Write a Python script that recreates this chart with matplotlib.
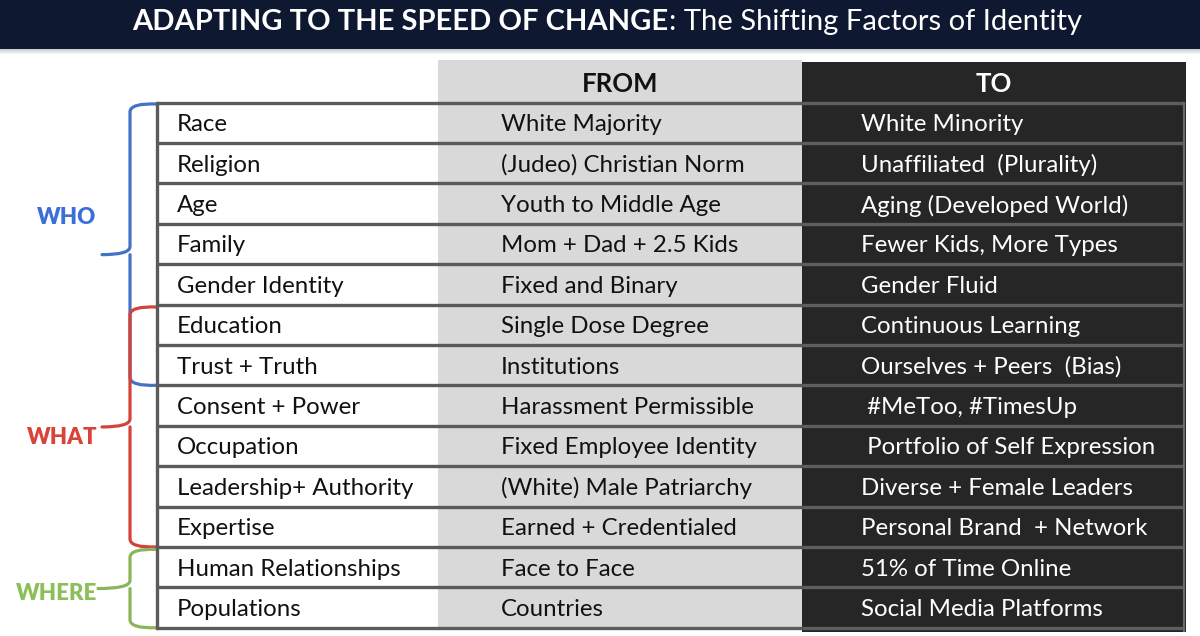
import matplotlib
matplotlib.use("Agg")
import matplotlib.pyplot as plt
from matplotlib.path import Path
from matplotlib.patches import PathPatch, Rectangle

# ---------------- data ----------------
title_bold = "ADAPTING TO THE SPEED OF CHANGE"
title_rest = ": The Shifting Factors of Identity"
col_headers = ["FROM", "TO"]
factors = ["Race", "Religion", "Age", "Family", "Gender Identity", "Education",
           "Trust + Truth", "Consent + Power", "Occupation", "Leadership+ Authority",
           "Expertise", "Human Relationships", "Populations"]
from_vals = ["White Majority", "(Judeo) Christian Norm", "Youth to Middle Age",
             "Mom + Dad + 2.5 Kids", "Fixed and Binary", "Single Dose Degree",
             "Institutions", "Harassment Permissible", "Fixed Employee Identity",
             "(White) Male Patriarchy", "Earned + Credentialed", "Face to Face",
             "Countries"]
to_vals = ["White Minority", "Unaffiliated  (Plurality)", "Aging (Developed World)",
           "Fewer Kids, More Types", "Gender Fluid", "Continuous Learning",
           "Ourselves + Peers  (Bias)", " #MeToo, #TimesUp", " Portfolio of Self Expression",
           "Diverse + Female Leaders", "Personal Brand  + Network", "51% of Time Online",
           "Social Media Platforms"]
groups = ["WHO", "WHAT", "WHERE"]
group_rows = [(0, 7), (5, 11), (11, 13)]   # [start, end) row ranges
group_colors = ["#4472c4", "#d4433a", "#8ab55a"]
group_text_colors = ["#3a6fd8", "#d9443a", "#8cbf5a"]

# ---------------- layout ----------------
W, H = 1200, 636
fig = plt.figure(figsize=(12, 6.36), dpi=100)
ax = fig.add_axes([0, 0, 1, 1])
ax.set_xlim(0, W)
ax.set_ylim(H, 0)
ax.axis("off")
fig.patch.set_facecolor("white")

FONT = "Lato"
row_top, row_h = 102.5, 40.4
n = len(factors)
table_bottom = row_top + n * row_h
x_left, x_from, x_to, x_right = 157, 438, 802, 1186

def ry(i):
    return row_top + i * row_h

# title bar with shadow
for k in range(6):
    ax.add_patch(Rectangle((0, 48 + k), W, 1, color="#0e1830", alpha=0.25 - 0.04 * k, lw=0))
ax.add_patch(Rectangle((0, 0), W, 48.5, color="#0e1830", lw=0))

# columns backgrounds
ax.add_patch(Rectangle((x_from, 60), x_to - x_from, table_bottom - 60, color="#d9d9d9", lw=0))
ax.add_patch(Rectangle((x_to, 62), x_right - x_to, table_bottom + 4 - 62, color="#262626", lw=0))

# horizontal row lines
for i in range(n + 1):
    y = ry(i)
    ax.plot([x_left, x_to], [y, y], color="#5b5b5b", lw=2.4, solid_capstyle="butt", zorder=3)
    ax.plot([x_to, x_right - 2], [y, y], color="#5e5e5e", lw=2.4, solid_capstyle="butt", zorder=3)
ax.plot([x_left, x_left], [row_top, table_bottom], color="#5b5b5b", lw=2.4, zorder=3)
ax.plot([x_right - 2, x_right - 2], [row_top, table_bottom + 3], color="#6a6a6a", lw=1.6, zorder=3)

# headers
hy = 84
ax.text((x_from + x_to) / 2, hy, col_headers[0], ha="center", va="center", fontsize=18.5,
        fontweight="bold", family=FONT, color="#111111")
ax.text((x_to + x_right) / 2, hy, col_headers[1], ha="center", va="center", fontsize=18.5,
        fontweight="bold", family=FONT, color="white")

# cell text
fs = 17.3
for i in range(n):
    yc = ry(i) + row_h / 2 + 2
    ax.text(177, yc, factors[i], ha="left", va="center", fontsize=fs, family=FONT, color="#111111")
    ax.text(501, yc, from_vals[i], ha="left", va="center", fontsize=fs, family=FONT, color="#111111")
    ax.text(861, yc, to_vals[i], ha="left", va="center", fontsize=fs, family=FONT, color="white")

# brackets
def bracket(top, bottom, tip_y, color, xv=130, xt=102):
    r = 8
    verts = [(x_left, top), (xv, top - 1), (xv, top + r),
             (xv, tip_y - r), (xv, tip_y), (xt, tip_y),
             (xv, tip_y), (xv, tip_y + r), (xv, tip_y + r),
             (xv, bottom - r), (xv, bottom + 1), (x_left, bottom)]
    codes = [Path.MOVETO, Path.CURVE3, Path.CURVE3,
             Path.LINETO, Path.CURVE3, Path.CURVE3,
             Path.MOVETO, Path.CURVE3, Path.CURVE3,
             Path.LINETO, Path.CURVE3, Path.CURVE3]
    ax.add_patch(PathPatch(Path(verts, codes), fill=False, edgecolor=color, lw=2.3,
                           capstyle="round", joinstyle="round", zorder=2))

label_pos = [(67, 218), (62, 437), (57, 594)]
for g, (s, e) in enumerate(group_rows):
    top = ry(s) + (1.5 if g == 0 else 2.5)
    bottom = ry(e)
    tip = (top + bottom) / 2 + (10 if g == 0 else 0)
    bracket(top, bottom, tip, group_colors[g], xt=102 if g < 2 else 98)
    ax.text(label_pos[g][0], label_pos[g][1], groups[g], ha="center", va="center",
            fontsize=16, fontweight="heavy", family=FONT, color=group_text_colors[g])

# title (bold part + regular part, centered together)
fig.canvas.draw()
r = fig.canvas.get_renderer()
t1 = ax.text(0, 22, title_bold, ha="left", va="center", fontsize=21, fontweight="bold",
             family=FONT, color="white")
t2 = ax.text(0, 22, title_rest, ha="left", va="center", fontsize=21,
             family=FONT, color="white")
w1 = t1.get_window_extent(r).width
w2 = t2.get_window_extent(r).width
x0 = 607 - (w1 + w2) / 2
t1.set_x(x0)
t2.set_x(x0 + w1)

fig.savefig("out.png", dpi=100, facecolor="white")
